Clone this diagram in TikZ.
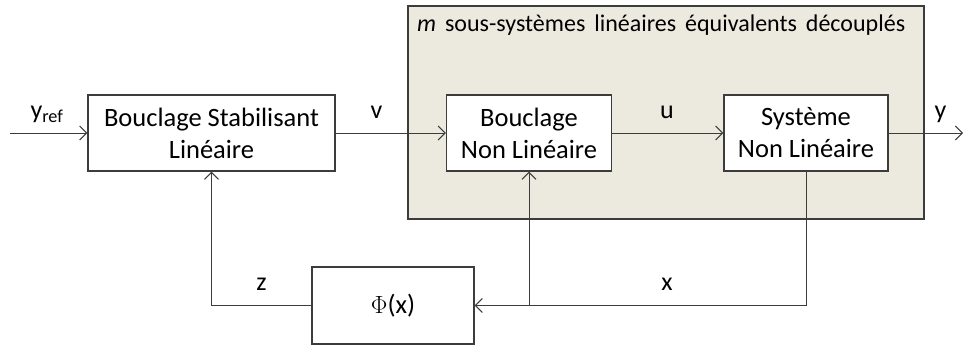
\documentclass[tikz,border=0pt]{standalone}
\usepackage{fontspec}
\setmainfont{Carlito}
\usetikzlibrary{arrows.meta}
\definecolor{fondgris}{RGB}{236,233,223}
\definecolor{trait}{RGB}{60,60,60}
\begin{document}
\begin{tikzpicture}[x=1pt,y=-1pt,
  bloc/.style={rectangle, draw=trait, fill=white, line width=1.2pt, minimum height=76pt, align=center, inner sep=0pt, font=\fontsize{26.5}{32}\selectfont},
  lab/.style={inner sep=0pt, anchor=base, font=\fontsize{26}{32}\selectfont},
  lien/.style={draw=trait, line width=1pt},
  fleche/.style={lien, -{Straight Barb[length=7pt,width=14pt]}}]
\useasboundingbox (0,0) rectangle (963,350);
% cadre des sous-systemes
\draw [draw=trait, fill=fondgris, line width=1.2pt] (408,6) rectangle (924,219);
\node [inner sep=0pt, anchor=base west, font=\fontsize{24}{28}\selectfont] (titre) at (417,32)
  {\makebox[488pt][s]{\textit{m} sous-systèmes linéaires équivalents découplés}};
% blocs
\node [bloc, minimum width=247pt] (bsl) at (211.5,133) {Bouclage Stabilisant\\Linéaire};
\node [bloc, minimum width=165pt] (bnl) at (529,133) {Bouclage\\Non Linéaire};
\node [bloc, minimum width=164pt] (snl) at (806,133) {Système\\Non Linéaire};
\node [bloc, minimum width=162pt, minimum height=77pt] (phi) at (393,305.5) {$\Phi$(x)};
% entree, sortie, noeuds
\coordinate (in) at (10,133);
\coordinate (out) at (963,133);
\coordinate (px) at (snl.south |- phi.east);
\coordinate (bx) at (bnl.south |- phi.east);
\coordinate (pz) at (bsl.south |- phi.west);
% liaisons
\draw [fleche] (in) -- (bsl);
\draw [fleche] (bsl) -- (bnl);
\draw [fleche] (bnl) -- (snl);
\draw [fleche] (snl) -- (out);
\draw [fleche] (snl.south) -- (px) -- (phi.east);
\draw [fleche] (bx) -- (bnl.south);
\draw [fleche] (phi.west) -- (pz) -- (bsl.south);
% etiquettes
\node [lab] (lyref) at (47,119) {y\textsubscript{ref}};
\node [lab] (lv) at (376.5,119) {v};
\node [lab] (lu) at (667,119) {u};
\node [lab] (ly) at (940.5,119) {y};
\node [lab] (lz) at (261.5,290) {z};
\node [lab] (lx) at (667,290) {x};
\end{tikzpicture}
\end{document}
